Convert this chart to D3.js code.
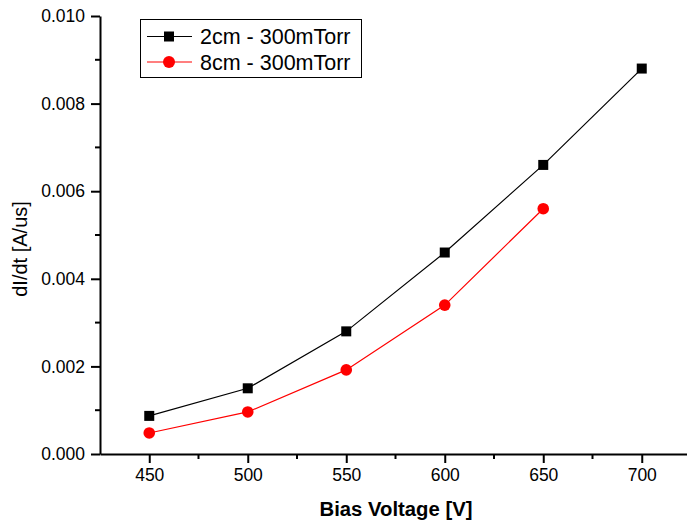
<!DOCTYPE html>
<html>
<head>
<meta charset="utf-8">
<script src="https://cdn.jsdelivr.net/npm/d3@7"></script>
<style>
  html, body { margin: 0; padding: 0; background: #fff; }
  svg { display: block; font-family: "Liberation Sans", Arial, sans-serif; }
</style>
</head>
<body>
<svg id="chart" width="687" height="522"></svg>
<script>
// Bias voltage values (V)
const voltages = [450, 500, 550, 600, 650, 700];
// dI/dt values (A/us) for each configuration
const series2cm = [0.00087, 0.0015, 0.0028, 0.0046, 0.0066, 0.0088];
const series8cm = [0.00048, 0.00096, 0.00192, 0.0034, 0.0056];
const seriesNames = ["2cm - 300mTorr", "8cm - 300mTorr"];
const xTicks = [450, 500, 550, 600, 650, 700];
const yTicks = [0.000, 0.002, 0.004, 0.006, 0.008, 0.010];

const svg = d3.select("#chart");
const plotLeft = 100, plotTop = 16, plotBottom = 454;

const x = d3.scaleLinear().domain([425, 725]).range([plotLeft, plotLeft + 591]);
const y = d3.scaleLinear().domain([0, 0.010]).range([plotBottom, plotTop]);

const axisG = svg.append("g");

// Minor ticks
const xMinor = d3.range(475, 725, 50);
const yMinor = d3.range(0.001, 0.0101, 0.002);
axisG.selectAll(".xminor").data(xMinor).enter().append("line")
  .attr("x1", d => x(d)).attr("x2", d => x(d))
  .attr("y1", plotBottom).attr("y2", plotBottom + 5)
  .attr("stroke", "#000").attr("stroke-width", 2);
axisG.selectAll(".yminor").data(yMinor).enter().append("line")
  .attr("y1", d => y(d)).attr("y2", d => y(d))
  .attr("x1", plotLeft).attr("x2", plotLeft - 5)
  .attr("stroke", "#000").attr("stroke-width", 2);

// X axis
const xAxis = d3.axisBottom(x).tickValues(xTicks).tickSize(9).tickPadding(6).tickSizeOuter(0);
const gx = svg.append("g").attr("transform", `translate(0,${plotBottom})`).call(xAxis);
gx.select(".domain").attr("stroke-width", 2);
gx.selectAll(".tick line").attr("stroke-width", 2);
gx.selectAll(".tick text").attr("font-size", 17.5).attr("fill", "#000")
  .attr("font-family", "Liberation Sans, Arial, sans-serif");

// Y axis
const yAxis = d3.axisLeft(y).tickValues(yTicks).tickSize(9).tickPadding(6)
  .tickFormat(d3.format(".3f")).tickSizeOuter(0);
const gy = svg.append("g").attr("transform", `translate(${plotLeft},0)`).call(yAxis);
gy.select(".domain").attr("stroke-width", 2);
gy.selectAll(".tick line").attr("stroke-width", 2);
gy.selectAll(".tick text").attr("font-size", 17.5).attr("fill", "#000")
  .attr("font-family", "Liberation Sans, Arial, sans-serif");

// Axis titles
svg.append("text")
  .attr("x", 396).attr("y", 516)
  .attr("text-anchor", "middle")
  .attr("font-size", 20.3).attr("font-weight", "bold")
  .text("Bias Voltage [V]");
svg.append("text")
  .attr("transform", "translate(27,249) rotate(-90)")
  .attr("text-anchor", "middle")
  .attr("font-size", 20)
  .text("dI/dt [A/us]");

const line = d3.line().x(d => x(d[0])).y(d => y(d[1]));
const data2 = voltages.map((v, i) => [v, series2cm[i]]);
const data8 = voltages.slice(0, series8cm.length).map((v, i) => [v, series8cm[i]]);

// Black series: line + squares
svg.append("path").datum(data2).attr("d", line)
  .attr("fill", "none").attr("stroke", "#000").attr("stroke-width", 1.2);
svg.selectAll(".sq").data(data2).enter().append("rect")
  .attr("x", d => x(d[0]) - 5).attr("y", d => y(d[1]) - 5)
  .attr("width", 10).attr("height", 10).attr("fill", "#000");

// Red series: line + circles
svg.append("path").datum(data8).attr("d", line)
  .attr("fill", "none").attr("stroke", "#ff0000").attr("stroke-width", 1.2);
svg.selectAll(".ci").data(data8).enter().append("circle")
  .attr("cx", d => x(d[0])).attr("cy", d => y(d[1]))
  .attr("r", 5.8).attr("fill", "#ff0000");

// Legend
const lg = svg.append("g");
lg.append("rect").attr("x", 140.5).attr("y", 19.5).attr("width", 221).attr("height", 58)
  .attr("fill", "#fff").attr("stroke", "#000").attr("stroke-width", 1);
const rows = [
  { name: seriesNames[0], color: "#000", shape: "square", cy: 36.5 },
  { name: seriesNames[1], color: "#ff0000", shape: "circle", cy: 62 }
];
rows.forEach(r => {
  lg.append("line").attr("x1", 147).attr("x2", 192).attr("y1", r.cy).attr("y2", r.cy)
    .attr("stroke", r.color).attr("stroke-width", 1.2);
  if (r.shape === "square") {
    lg.append("rect").attr("x", 164).attr("y", r.cy - 5).attr("width", 10).attr("height", 10)
      .attr("fill", r.color);
  } else {
    lg.append("circle").attr("cx", 169).attr("cy", r.cy).attr("r", 6).attr("fill", r.color);
  }
  lg.append("text").attr("x", 200).attr("y", r.cy + 7.5)
    .attr("font-size", 21.5).attr("fill", "#000").text(r.name);
});
</script>
</body>
</html>
